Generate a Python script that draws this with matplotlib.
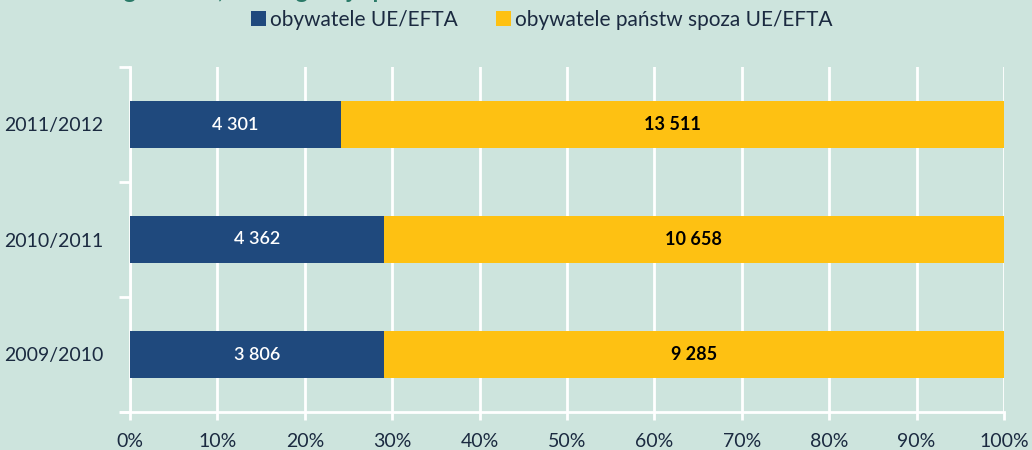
import matplotlib
matplotlib.use("Agg")
import matplotlib.pyplot as plt
import numpy as np

years = ["2009/2010", "2010/2011", "2011/2012"]
eu_efta = [3806, 4362, 4301]
non_eu = [9285, 10658, 13511]
series_names = ["obywatele UE/EFTA", "obywatele państw spoza UE/EFTA"]
x_ticks = [0, 10, 20, 30, 40, 50, 60, 70, 80, 90, 100]
title = "Studenci zagraniczni, według kraju pochodzenia"

BG = "#cde4dd"
BLUE = "#1f497d"
YELLOW = "#fec112"
TXT = "#1b2a40"

plt.rcParams['font.family'] = ['Lato', 'DejaVu Sans']

fig = plt.figure(figsize=(10.32, 4.5), dpi=100, facecolor=BG)
ax = fig.add_axes([130/1032, 1-412/450, (1004-130)/1032, (412-67)/450])
ax.set_facecolor(BG)

eu = np.array(eu_efta, float)
ne = np.array(non_eu, float)
tot = eu + ne
p1 = eu / tot * 100
p2 = ne / tot * 100
y = np.arange(len(years))
h = 0.41
ax.barh(y, p1, height=h, color=BLUE, label=series_names[0], zorder=3)
ax.barh(y, p2, left=p1, height=h, color=YELLOW, label=series_names[1], zorder=3)

def fmt(v):
    return f"{v:,}".replace(",", " ")

for i in range(len(years)):
    ax.text(p1[i]/2, y[i], fmt(eu_efta[i]), ha='center', va='center', color='white',
            fontsize=13, fontweight='semibold', zorder=4)
    ax.text(p1[i] + p2[i]/2, y[i], fmt(non_eu[i]), ha='center', va='center', color='black',
            fontsize=13, fontweight='bold', zorder=4)

ax.set_xlim(0, 100)
ax.set_ylim(-0.5, 2.5)
ax.set_xticks(x_ticks)
ax.set_xticklabels([f"{t}%" for t in x_ticks])
ax.set_yticks(y)
ax.set_yticklabels(years)
ax.set_yticks([-0.5, 0.5, 1.5, 2.5], minor=True)
ax.tick_params(axis='y', which='major', length=0, pad=19, labelsize=14, labelcolor=TXT)
ax.tick_params(axis='y', which='minor', length=8, width=2, color='white')
ax.tick_params(axis='x', length=6, width=2, color='white', labelsize=14, labelcolor=TXT, pad=9)
ax.grid(axis='x', color='white', linewidth=2, zorder=1)
for s in ['top', 'right']:
    ax.spines[s].set_visible(False)
ax.spines['left'].set_color('white')
ax.spines['left'].set_linewidth(2)
ax.spines['bottom'].set_color('white')
ax.spines['bottom'].set_linewidth(2)
ax.spines['bottom'].set_bounds(-1, 100)

fig.text(0.003, 1 + 1.5/450, title, color="#2a7a68", fontsize=17, fontweight='bold',
         ha='left', va='baseline')

leg = fig.legend(loc='center', bbox_to_anchor=(0.525, 1 - 20/450), ncol=2, frameon=False,
                 fontsize=15, handlelength=0.75, handleheight=0.75, handletextpad=0.2,
                 columnspacing=1.8, labelcolor=TXT)

fig.savefig("out.png", dpi=100, facecolor=BG)
